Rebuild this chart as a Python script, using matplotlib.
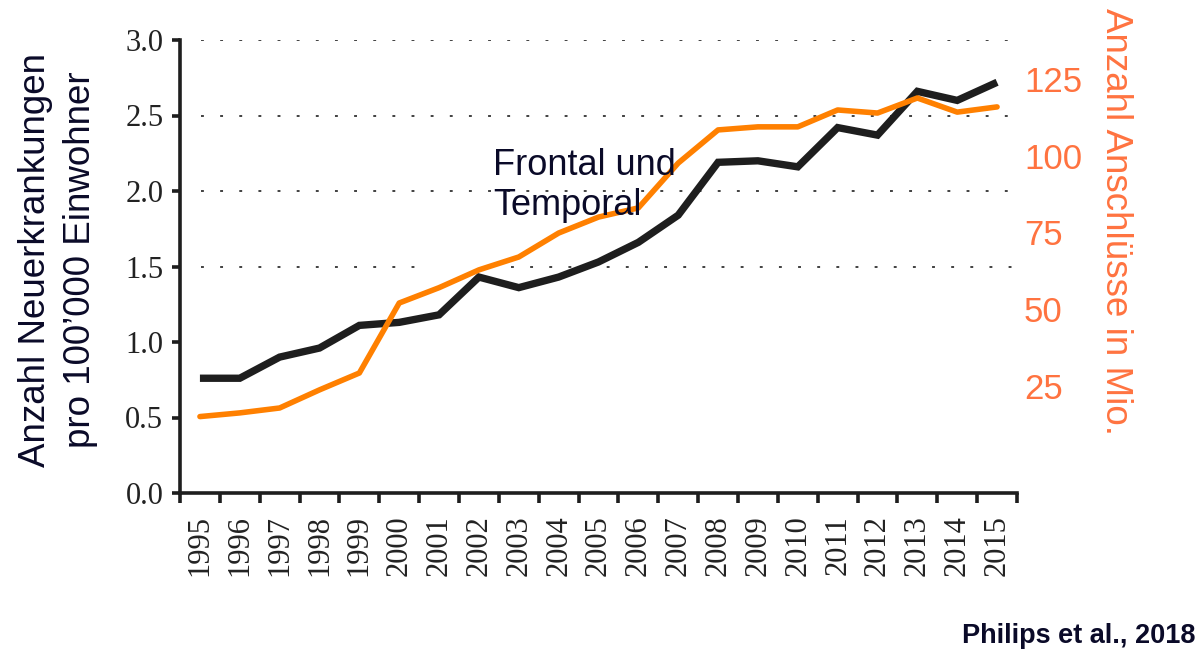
import numpy as np
import matplotlib
matplotlib.use("Agg")
import matplotlib.pyplot as plt

# ── Daten ─────────────────────────────────────────────────────
years = list(range(1995, 2016))
inzidenz = [0.76, 0.76, 0.90, 0.96, 1.11, 1.13, 1.18, 1.43, 1.36, 1.43, 1.53,
            1.66, 1.84, 2.19, 2.20, 2.16, 2.42, 2.37, 2.66, 2.60, 2.72]
anschluesse = [15.0, 16.2, 17.8, 23.7, 29.2, 52.0, 57.0, 62.8, 67.0, 74.8, 80.0,
               83.0, 97.6, 108.4, 109.4, 109.4, 114.9, 113.9, 118.8, 114.2, 115.9]
left_ticks = [0.0, 0.5, 1.0, 1.5, 2.0, 2.5, 3.0]
right_ticks = [25, 50, 75, 100, 125]

BLACK = "#1e1e1e"
ORANGE = "#ff8000"
LABEL_ORANGE = "#ff7340"
NAVY = "#0a0a28"

SERIF = ["Liberation Serif", "DejaVu Serif"]
SANS = ["Liberation Sans", "DejaVu Sans"]

fig = plt.figure(figsize=(12.02, 6.53), dpi=100)
ax = fig.add_axes([180 / 1202, 1 - 493 / 653, (1017 - 180) / 1202, (493 - 40) / 653])

# gepunktete Hilfslinien (0.5 und 1.0 fehlen im Original)
grid_kw = dict(color="#333333", lw=1.3, dashes=(1.6, 9.0), zorder=0)
for v in [2.0, 2.5, 3.0]:
    ax.axhline(v, xmin=0.025, xmax=1.0, **grid_kw)
ax.axhline(1.5, xmin=0.025, xmax=0.29, **grid_kw)
ax.axhline(1.5, xmin=0.395, xmax=1.0, **grid_kw)

ax.plot(years, inzidenz, color=BLACK, lw=5.3, solid_capstyle="butt",
        solid_joinstyle="miter", zorder=3)

ax.set_xlim(1994.5, 2015.5)
ax.set_ylim(0, 3.0)

for s in ["top", "right"]:
    ax.spines[s].set_visible(False)
for s in ["left", "bottom"]:
    ax.spines[s].set_linewidth(2.6)
    ax.spines[s].set_color(BLACK)

ax.set_yticks(left_ticks)
ax.set_yticklabels([f"{v:.1f}" for v in left_ticks], family=SERIF, fontsize=22, color="#222222")
ax.tick_params(axis="y", length=6, width=2.6, pad=6, color=BLACK)

ax.set_xticks(years)
ax.set_xticklabels([str(y) for y in years], rotation=90, family=SERIF, fontsize=22,
                   color="#222222")
ax.set_xticks(np.arange(1994.5, 2016, 1.0), minor=True)
ax.tick_params(axis="x", which="major", length=0, pad=16)
ax.tick_params(axis="x", which="minor", length=7, width=2.6, color=BLACK)

# rechte Achse: Anschlüsse
ax2 = ax.twinx()
ax2.plot(years, anschluesse, color=ORANGE, lw=4.0, solid_capstyle="round", zorder=4)
ax2.set_ylim(-9.9, 137.7)
ax2.set_yticks(right_ticks)
ax2.set_yticklabels([str(v) for v in right_ticks], family=SANS, fontsize=25, color=LABEL_ORANGE)
ax2.tick_params(axis="y", length=0, pad=5)
for s in ax2.spines.values():
    s.set_visible(False)

fig.text(58 / 1202, 1 - 260 / 653, "Anzahl Neuerkrankungen\npro 100’000 Einwohner",
         rotation=90, ha="center", va="center", multialignment="center",
         linespacing=1.35, family=SANS, fontsize=26.5, color=NAVY)
fig.text(1116 / 1202, 1 - 8 / 653, "Anzahl Anschlüsse in Mio.", rotation=270,
         ha="center", va="top", family=SANS, fontsize=26.5, color=LABEL_ORANGE)
fig.text(493 / 1202, 1 - 148 / 653, "Frontal und\nTemporal", ha="left", va="top",
         family=SANS, fontsize=26, color=NAVY, zorder=5)
fig.text(1195 / 1202, 1 - 643 / 653, "Philips et al., 2018", ha="right", va="baseline",
         family=SANS, fontsize=19.5, weight="bold", color=NAVY)

fig.savefig("out.png", dpi=100)
